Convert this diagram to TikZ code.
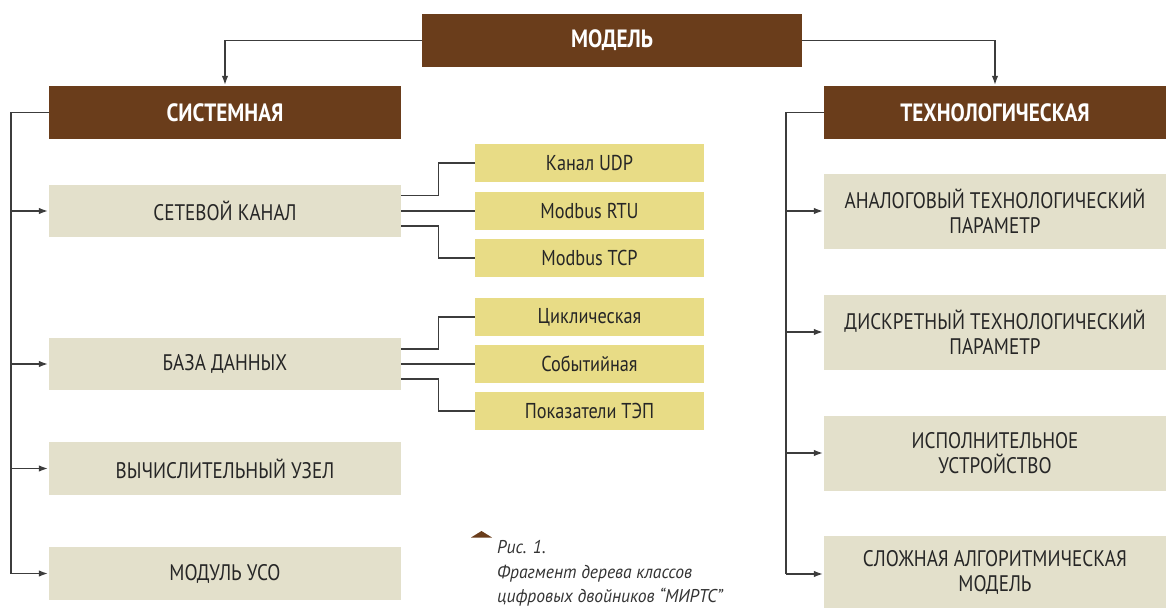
\documentclass[tikz,border=0pt]{standalone}
\usepackage{fontspec}
\setmainfont{PT Sans}[FakeStretch=0.85]
\newfontfamily\headfont{PT Sans}[FakeStretch=0.85]
\newfontfamily\capfont{PT Sans}[FakeStretch=0.95]
\usetikzlibrary{arrows.meta}
\definecolor{brownbox}{HTML}{6A3D1B}
\definecolor{graybox}{HTML}{E3E0CB}
\definecolor{yelbox}{HTML}{E8DC86}
\definecolor{linec}{HTML}{3C3C3C}
\definecolor{txt}{HTML}{262626}
\definecolor{captxt}{HTML}{333333}
\begin{document}
\begin{tikzpicture}[x=1pt,y=-1pt,
  head/.style={fill=brownbox, text=white, inner sep=0pt, minimum height=53pt,
    font=\headfont\bfseries\fontsize{25}{28}\selectfont},
  gbox/.style={fill=graybox, text=txt, inner sep=0pt, align=center,
    font=\fontsize{22.5}{25}\selectfont},
  ybox/.style={fill=yelbox, text=txt, inner sep=0pt, minimum width=229pt, minimum height=37.7pt,
    font=\fontsize{21.5}{24}\selectfont},
  conn/.style={draw=linec, line width=1.2pt},
  arr/.style={conn, -{Latex[length=9pt,width=6.5pt]}, shorten >=1pt}
]
\useasboundingbox (0,0) rectangle (1166,608);
% top
\node[head, minimum width=380pt] (model) at (612,40.5) {МОДЕЛЬ};
\node[head, minimum width=352pt] (sys) at (225,112.5) {СИСТЕМНАЯ};
\node[head, minimum width=342pt] (tech) at (995,112.5) {ТЕХНОЛОГИЧЕСКАЯ};
% left column
\node[gbox, minimum width=352pt, minimum height=52pt] (net) at (225,211) {СЕТЕВОЙ КАНАЛ};
\node[gbox, minimum width=352pt, minimum height=52pt] (db) at (225,364) {БАЗА ДАННЫХ};
\node[gbox, minimum width=352pt, minimum height=53pt] (comp) at (225,468.5) {ВЫЧИСЛИТЕЛЬНЫЙ УЗЕЛ};
\node[gbox, minimum width=352pt, minimum height=53pt] (uso) at (225,573.5) {МОДУЛЬ УСО};
% yellow
\node[ybox] (udp) at (589.5,163) {Канал UDP};
\node[ybox] (rtu) at (589.5,211) {Modbus RTU};
\node[ybox] (tcp) at (589.5,258) {Modbus TCP};
\node[ybox] (cyc) at (589.5,317) {Циклическая};
\node[ybox] (evt) at (589.5,364) {Событийная};
\node[ybox] (tep) at (589.5,411) {Показатели ТЭП};
% right column
\node[gbox, minimum width=342pt, minimum height=75pt] (an) at (995,211) {АНАЛОГОВЫЙ ТЕХНОЛОГИЧЕСКИЙ\\ПАРАМЕТР};
\node[gbox, minimum width=342pt, minimum height=75pt] (di) at (995,332) {ДИСКРЕТНЫЙ ТЕХНОЛОГИЧЕСКИЙ\\ПАРАМЕТР};
\node[gbox, minimum width=342pt, minimum height=75pt] (isp) at (995,453) {ИСПОЛНИТЕЛЬНОЕ\\УСТРОЙСТВО};
\node[gbox, minimum width=342pt, minimum height=72pt] (slo) at (995,572) {СЛОЖНАЯ АЛГОРИТМИЧЕСКАЯ\\МОДЕЛЬ};
% top connectors
\draw[arr] (model.west) -| (sys.north);
\draw[arr] (model.east) -| (tech.north);
% left trunk
\coordinate (lt) at (11,112.5);
\coordinate (lb) at (11,573.5);
\draw[conn] (sys.west) -- (lt) -- (lb);
\draw[arr] (lt |- net.west) -- (net.west);
\draw[arr] (lt |- db.west) -- (db.west);
\draw[arr] (lt |- comp.west) -- (comp.west);
\draw[arr] (lb) -- (uso.west);
% right trunk
\coordinate (rt) at (786,112.5);
\coordinate (rb) at (786,574);
\draw[conn] (tech.west) -- (rt) -- (rb);
\draw[arr] (rt |- an.west) -- (an.west);
\draw[arr] (rt |- di.west) -- (di.west);
\draw[arr] (rt |- isp.west) -- (isp.west);
\draw[arr] (rb) -- (rb -| slo.west);
% sub connectors
\draw[conn] ([yshift=15.5pt]net.east) -- ++(37,0) |- (udp.west);
\draw[conn] (net.east) -- (rtu.west);
\draw[conn] ([yshift=-15pt]net.east) -- ++(37,0) |- (tcp.west);
\draw[conn] ([yshift=15pt]db.east) -- ++(37,0) |- (cyc.west);
\draw[conn] (db.east) -- (evt.west);
\draw[conn] ([yshift=-15pt]db.east) -- ++(37,0) |- (tep.west);
% caption
\fill[brownbox] (471,537.5) -- (481.5,531) -- (492,537.5) -- cycle;
\node[anchor=north west, inner sep=0pt, align=left, text=captxt,
  font=\capfont\itshape\fontsize{18.5}{24.5}\selectfont] (cap) at (497,540.5)
  {Рис. 1.\\Фрагмент дерева классов\\цифровых двойников “МИРТС”};
\end{tikzpicture}
\end{document}
